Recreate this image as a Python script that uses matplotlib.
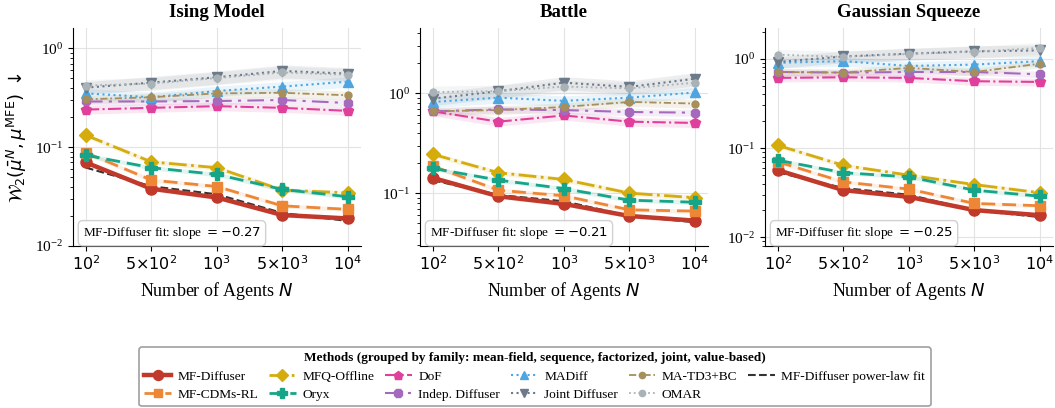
import matplotlib.pyplot as plt
import numpy as np

plt.rcParams['font.family'] = ['Liberation Serif', 'DejaVu Serif']
plt.rcParams['mathtext.fontset'] = 'dejavusans'

agents = [100, 500, 1000, 5000, 10000]
agent_labels = [r'$10^2$', r'$5{\times}10^2$', r'$10^3$', r'$5{\times}10^3$', r'$10^4$']
envs = ['Ising Model', 'Battle', 'Gaussian Squeeze']

# W2 distance to the MFE, one row per environment
mf_diffuser = [[0.070, 0.038, 0.031, 0.0206, 0.019],
               [0.142, 0.093, 0.078, 0.059, 0.053],
               [0.0565, 0.0338, 0.0284, 0.0202, 0.0177]]
mf_cdms = [[0.088, 0.0465, 0.040, 0.0255, 0.0235],
           [0.186, 0.107, 0.094, 0.068, 0.066],
           [0.070, 0.0418, 0.0347, 0.024, 0.0226]]
mfq_offline = [[0.132, 0.071, 0.062, 0.0368, 0.0345],
               [0.245, 0.160, 0.137, 0.100, 0.090],
               [0.107, 0.064, 0.0497, 0.039, 0.0316]]
oryx = [[0.083, 0.062, 0.053, 0.0374, 0.0315],
        [0.177, 0.135, 0.111, 0.085, 0.081],
        [0.073, 0.053, 0.0475, 0.0338, 0.0289]]
dof = [[0.24, 0.25, 0.26, 0.25, 0.233],
       [0.66, 0.52, 0.60, 0.52, 0.505],
       [0.61, 0.62, 0.61, 0.56, 0.55]]
indep_diffuser = [[0.29, 0.29, 0.293, 0.30, 0.28],
                  [0.66, 0.69, 0.68, 0.65, 0.64],
                  [0.71, 0.70, 0.71, 0.71, 0.67]]
madiff = [[0.35, 0.32, 0.37, 0.41, 0.46],
          [0.82, 0.905, 0.84, 0.905, 1.02],
          [0.90, 0.94, 0.83, 0.86, 0.94]]
joint_diffuser = [[0.40, 0.45, 0.51, 0.59, 0.555],
                  [0.885, 1.05, 1.28, 1.16, 1.40],
                  [0.92, 1.06, 1.14, 1.21, 1.24]]
ma_td3bc = [[0.305, 0.32, 0.35, 0.355, 0.335],
            [0.66, 0.68, 0.73, 0.82, 0.79],
            [0.71, 0.70, 0.79, 0.71, 0.88]]
omar = [[0.42, 0.44, 0.50, 0.57, 0.54],
        [1.03, 1.05, 1.17, 1.12, 1.28],
        [1.11, 1.05, 1.13, 1.20, 1.32]]

fit_slope = [-0.27, -0.21, -0.25]
# relative half-width of the shaded band (std over seeds)
band = [0.05, 0.05, 0.06, 0.05, 0.10, 0.08, 0.12, 0.15, 0.10, 0.15]

ylims = [(0.01, 1.6), (0.0295, 4.5), (0.008, 2.2)]

methods = [
    ('MF-Diffuser', mf_diffuser, dict(color='#C0392B', ls='-', marker='o', lw=3.2, ms=8)),
    ('MF-CDMs-RL', mf_cdms, dict(color='#EE8735', ls=(0, (5, 2.5)), marker='s', lw=2.0, ms=7)),
    ('MFQ-Offline', mfq_offline, dict(color='#D4AC0D', ls='-.', marker='D', lw=2.0, ms=7)),
    ('Oryx', oryx, dict(color='#17A589', ls=(0, (5, 2.5)), marker='P', lw=2.0, ms=8)),
    ('DoF', dof, dict(color='#E0409B', ls='-.', marker='p', lw=1.5, ms=7)),
    ('Indep. Diffuser', indep_diffuser, dict(color='#A569BD', ls=(0, (8, 3, 1.5, 3)), marker='8', lw=1.5, ms=7)),
    ('MADiff', madiff, dict(color='#4EA5E0', ls=':', marker='^', lw=1.5, ms=7)),
    ('Joint Diffuser', joint_diffuser, dict(color='#6C7A89', ls=':', marker='v', lw=1.5, ms=7)),
    ('MA-TD3+BC', ma_td3bc, dict(color='#A68F5B', ls=(0, (4, 1.5, 1, 1.5)), marker='o', lw=1.3, ms=5)),
    ('OMAR', omar, dict(color='#A9B2B6', ls=':', marker='o', lw=1.3, ms=5)),
]

fig = plt.figure(figsize=(10.55, 4.08), dpi=100)
lefts = [0.069, 0.398, 0.725]
axes = [fig.add_axes([l, 0.397, 0.273, 0.534]) for l in lefts]

x = np.arange(len(agents))
logn = np.log10(agents)

for k, ax in enumerate(axes):
    for (name, vals, st), frac in zip(methods, band):
        y = np.array(vals[k])
        ax.fill_between(x, y * (1 - frac), y * (1 + frac), color=st['color'], alpha=0.12, lw=0)
        ax.plot(x, y, label=name, zorder=3, **st)

    # power-law fit with the reported slope, intercept by least squares
    logy = np.log10(mf_diffuser[k])
    b = np.mean(logy) - fit_slope[k] * np.mean(logn)
    ax.plot(x, 10 ** (b + fit_slope[k] * logn), color='#333333', ls='--', lw=1.5,
            zorder=2, label='MF-Diffuser power-law fit')

    ax.text(0.035, 0.045, f'MF-Diffuser fit: slope $= {fit_slope[k]:.2f}$',
            transform=ax.transAxes, fontsize=9.5, zorder=5,
            bbox=dict(boxstyle='round,pad=0.35', fc='white', ec='#cccccc', alpha=0.9))

    ax.set_yscale('log')
    ax.set_ylim(*ylims[k])
    ax.set_xlim(-0.2, 4.2)
    ax.set_xticks(x)
    ax.set_xticklabels(agent_labels, fontsize=11.5)
    ax.tick_params(axis='y', labelsize=11)
    ax.grid(True, color='#e3e3e3', lw=0.8)
    ax.set_axisbelow(True)
    ax.spines['top'].set_visible(False)
    ax.spines['right'].set_visible(False)
    ax.set_title(envs[k], fontsize=13.5, fontweight='bold', pad=8)
    ax.set_xlabel(r'Number of Agents $N$', fontsize=13)

axes[0].set_ylabel(r'$\mathcal{W}_2(\bar{\mu}^N,\mu^{\mathrm{MFE}})$ $\downarrow$', fontsize=13)

handles, labels = axes[0].get_legend_handles_labels()
leg = fig.legend(handles, labels, loc='center', bbox_to_anchor=(0.507, 0.077), ncol=6,
                 fontsize=9.6, title='Methods (grouped by family: mean-field, sequence, factorized, joint, value-based)',
                 title_fontproperties={'weight': 'bold', 'size': 9.5},
                 frameon=True, fancybox=True, edgecolor='#888888', handlelength=2.0,
                 columnspacing=0.8, handletextpad=0.5, borderpad=0.4, labelspacing=0.45,
                 markerscale=0.9)
leg.get_frame().set_linewidth(1.2)

fig.savefig('out.png', dpi=100)
